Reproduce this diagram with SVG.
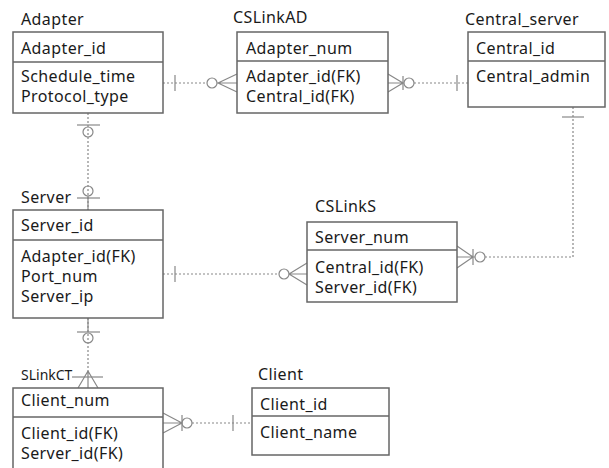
<svg xmlns="http://www.w3.org/2000/svg" width="609" height="468" viewBox="0 0 609 468">
<style>
text{font-family:"Noto Sans","Open Sans","DejaVu Sans",sans-serif;font-size:16px;fill:#1a1a1a;letter-spacing:0.4px}
.small{font-size:14px;letter-spacing:0}
.box{fill:#fff;stroke:#666;stroke-width:1.5}
.div{stroke:#666;stroke-width:1.5}
.dot{fill:none;stroke:#888;stroke-width:1.2;stroke-dasharray:2,2}
.sym{fill:none;stroke:#888;stroke-width:1.2}
</style>
<rect width="609" height="468" fill="#fff"/>
<g id="connectors">
<!-- Adapter - CSLinkAD -->
<line class="dot" x1="163" y1="83" x2="207" y2="83"/>
<line class="sym" x1="175" y1="75" x2="175" y2="91"/>
<circle class="sym" cx="212" cy="83" r="5"/>
<path class="sym" d="M218,83 L237,74 M218,83 L237,92 M217,83 L237,83"/>
<!-- CSLinkAD - Central_server -->
<path class="sym" d="M388,74 L403,83 M388,92 L403,83 M388,83 L404,83 M403,76 L403,90"/>
<circle class="sym" cx="409" cy="83" r="5"/>
<line class="dot" x1="414" y1="83" x2="468" y2="83"/>
<line class="sym" x1="457" y1="75" x2="457" y2="91"/>
<!-- Adapter - Server -->
<line class="dot" x1="88" y1="113" x2="88" y2="210"/>
<line class="sym" x1="77" y1="125" x2="100" y2="125"/>
<circle class="sym" cx="88" cy="132" r="5"/>
<circle class="sym" cx="88" cy="191" r="5"/>
<line class="sym" x1="77" y1="198" x2="100" y2="198"/>
<line class="sym" x1="88" y1="196" x2="88" y2="210"/>
<!-- Central_server - CSLinkS -->
<polyline class="dot" points="573,107 573,257 485,257"/>
<line class="sym" x1="562" y1="117" x2="584" y2="117"/>
<circle class="sym" cx="480" cy="257" r="5"/>
<path class="sym" d="M457,246 L473,257 M457,268 L473,257 M457,257 L475,257 M473,249 L473,265"/>
<!-- Server - CSLinkS -->
<line class="dot" x1="163" y1="274" x2="279" y2="274"/>
<line class="sym" x1="175" y1="266" x2="175" y2="282"/>
<circle class="sym" cx="284" cy="274" r="5"/>
<path class="sym" d="M289,274 L307,263 M289,274 L307,285 M289,274 L307,274"/>
<!-- Server - SLinkCT -->
<line class="dot" x1="88" y1="318" x2="88" y2="372"/>
<line class="sym" x1="88" y1="318" x2="88" y2="332"/>
<line class="sym" x1="77" y1="332" x2="100" y2="332"/>
<circle class="sym" cx="88" cy="338" r="5"/>
<line class="sym" x1="72" y1="377" x2="103" y2="377"/>
<path class="sym" d="M88,371 L78,388 M88,371 L98,388 M88,371 L88,388"/>
<!-- SLinkCT - Client -->
<path class="sym" d="M163,413 L182,423 M163,433 L182,423 M163,423 L182,423 M182,415 L182,431"/>
<circle class="sym" cx="187" cy="423" r="5"/>
<line class="dot" x1="192" y1="423" x2="252" y2="423"/>
<line class="sym" x1="233" y1="415" x2="233" y2="431"/>
</g>
<g id="Adapter">
<text x="21" y="25">Adapter</text>
<rect class="box" x="13" y="32" width="150" height="81"/>
<line class="div" x1="13" y1="62" x2="163" y2="62"/>
<text x="21" y="54">Adapter_id</text>
<text x="21" y="82">Schedule_time</text>
<text x="21" y="102">Protocol_type</text>
</g>
<g id="CSLinkAD">
<text x="233" y="23">CSLinkAD</text>
<rect class="box" x="237" y="32" width="151" height="81"/>
<line class="div" x1="237" y1="61" x2="388" y2="61"/>
<text x="246" y="54">Adapter_num</text>
<text x="246" y="82">Adapter_id(FK)</text>
<text x="246" y="102">Central_id(FK)</text>
</g>
<g id="Central_server">
<text x="465" y="25">Central_server</text>
<rect class="box" x="468" y="32" width="137" height="75"/>
<line class="div" x1="468" y1="61" x2="605" y2="61"/>
<text x="476" y="54">Central_id</text>
<text x="476" y="82">Central_admin</text>
</g>
<g id="Server">
<text x="21" y="203">Server</text>
<rect class="box" x="13" y="210" width="150" height="108"/>
<line class="div" x1="13" y1="240" x2="163" y2="240"/>
<text x="21" y="231">Server_id</text>
<text x="21" y="262">Adapter_id(FK)</text>
<text x="21" y="282">Port_num</text>
<text x="21" y="302">Server_ip</text>
</g>
<g id="CSLinkS">
<text x="315" y="212">CSLinkS</text>
<rect class="box" x="307" y="222" width="150" height="80"/>
<line class="div" x1="307" y1="250" x2="457" y2="250"/>
<text x="315" y="243">Server_num</text>
<text x="315" y="273">Central_id(FK)</text>
<text x="315" y="293">Server_id(FK)</text>
</g>
<g id="SLinkCT">
<text class="small" x="21" y="380">SLinkCT</text>
<rect class="box" x="13" y="388" width="150" height="84"/>
<line class="div" x1="13" y1="417" x2="163" y2="417"/>
<text x="21" y="406">Client_num</text>
<text x="21" y="439">Client_id(FK)</text>
<text x="21" y="459">Server_id(FK)</text>
</g>
<g id="Client">
<text x="258" y="380">Client</text>
<rect class="box" x="252" y="388" width="137" height="67"/>
<line class="div" x1="252" y1="416" x2="389" y2="416"/>
<text x="260" y="410">Client_id</text>
<text x="260" y="438">Client_name</text>
</g>
</svg>
